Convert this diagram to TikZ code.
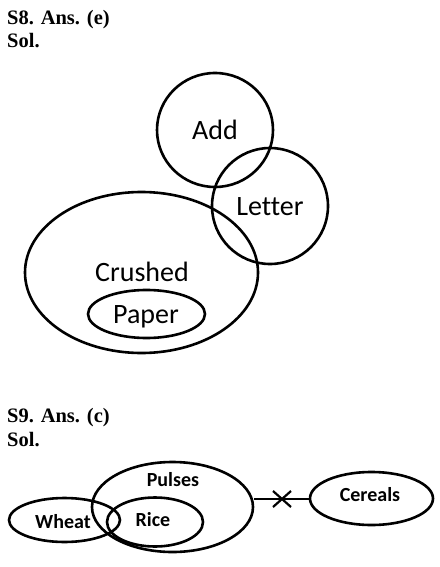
\documentclass[tikz,border=0pt]{standalone}
\usepackage{fontspec}
\usetikzlibrary{shapes.geometric}
\setmainfont{Liberation Serif}
\newfontfamily\calib[Ligatures=NoCommon]{Carlito}
\begin{document}
\begin{tikzpicture}[x=1pt,y=-1pt,
  ring/.style={draw=black,line width=2.6pt},
  head/.style={anchor=base west,inner sep=0pt,font=\fontsize{20.5}{20}\selectfont\bfseries},
  lbl/.style={font=\calib\fontsize{28}{28}\selectfont,inner sep=0pt},
  blbl/.style={font=\calib\bfseries\fontsize{20}{20}\selectfont,inner sep=0pt}]
\useasboundingbox (0,0) rectangle (439,567);
\node[head] (h1) at (7,25) {S8. Ans. (e)};
\node[head] (h2) at (7,48) {Sol.};
\node[head] (h3) at (7,422) {S9. Ans. (c)};
\node[head] (h4) at (7,446) {Sol.};
% S8
\draw[ring] (215,130) ellipse [x radius=58,y radius=57];
\draw[ring] (270,206) ellipse [x radius=58,y radius=58];
\draw[ring] (141.5,272.5) ellipse [x radius=116.5,y radius=80.5];
\draw[ring] (146.5,314) ellipse [x radius=58.5,y radius=24];
\node[lbl] (add) at (215,130) {Add};
\node[lbl] (letter) at (270,207) {Letter};
\node[lbl] (crushed) at (142,272) {Crushed};
\node[lbl] (paper) at (146,317) {Paper};
% S9
\node[ring,ellipse,minimum width=161pt,minimum height=90pt,inner sep=0pt] (pulses) at (172.5,507) {};
\draw[ring] (64.5,520) ellipse [x radius=55.5,y radius=22];
\draw[ring] (155,522) ellipse [x radius=48,y radius=24.5];
\node[ring,ellipse,minimum width=123pt,minimum height=53pt,inner sep=0pt] (cereals) at (371.5,498.5) {};
\node[blbl] at (173,480) {Pulses};
\node[blbl] at (63,522) {Wheat};
\node[blbl] at (153,520) {Rice};
\node[blbl] at (370,495) {Cereals};
\coordinate (xm) at (282,499);
\draw[line width=2.2pt] (pulses.east |- xm) -- (cereals.west |- xm);
\draw[line width=2.2pt] ([shift={(-9,-8)}]xm) -- ([shift={(9,8)}]xm);
\draw[line width=2.2pt] ([shift={(-9,8)}]xm) -- ([shift={(9,-8)}]xm);
\end{tikzpicture}
\end{document}
